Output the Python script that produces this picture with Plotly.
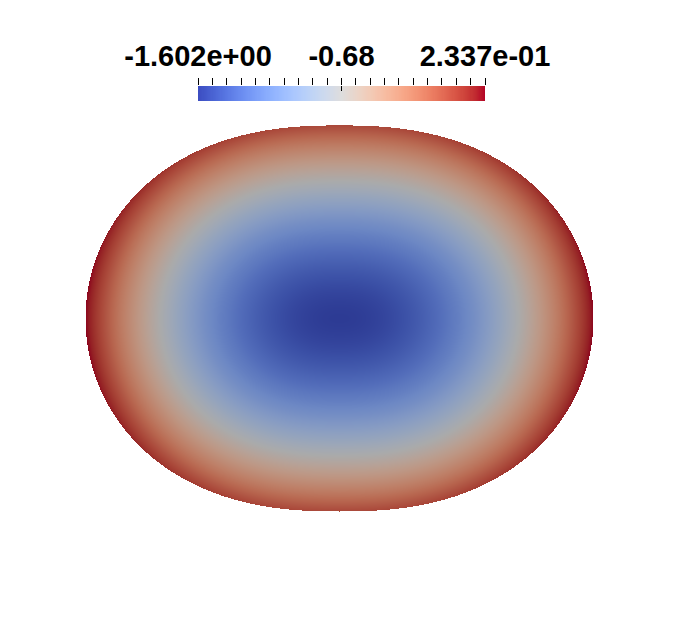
import numpy as np
import plotly.graph_objects as go

# ---- data ----
value_range = [-1.602, 0.2337]            # scalar range of the field (colorbar ends)
tick_labels = ["-1.602e+00", "-0.68", "2.337e-01"]
n_bar_ticks = 21                           # tick marks along the colorbar
domain_semi_axes = [1.0, 0.760]            # rounded domain half-width / half-height
domain_exponents = [2.4, 2.0]              # boundary exponents in x and y
field_semi_axes = [1.0, 0.82]              # level-set axes of the scalar field
field_power = 2.0                          # radial growth of the field along x

# ParaView "Cool to Warm" table (position, r, g, b)
cw_pos = [0.0, 0.03125, 0.0625, 0.09375, 0.125, 0.15625, 0.1875, 0.21875, 0.25,
          0.28125, 0.3125, 0.34375, 0.375, 0.40625, 0.4375, 0.46875, 0.5,
          0.53125, 0.5625, 0.59375, 0.625, 0.65625, 0.6875, 0.71875, 0.75,
          0.78125, 0.8125, 0.84375, 0.875, 0.90625, 0.9375, 0.96875, 1.0]
cw_r = [59, 68, 77, 87, 98, 108, 119, 130, 141, 152, 163, 174, 184, 194, 204, 213, 221,
        229, 236, 241, 245, 247, 247, 247, 244, 241, 236, 229, 222, 213, 203, 192, 180]
cw_g = [76, 90, 104, 117, 130, 142, 154, 165, 176, 185, 194, 201, 208, 213, 217, 219, 221,
        216, 211, 204, 196, 187, 177, 166, 154, 141, 127, 112, 96, 80, 62, 40, 4]
cw_b = [192, 204, 215, 225, 234, 241, 247, 251, 254, 255, 255, 253, 249, 244, 238, 230, 221,
        209, 197, 185, 173, 160, 148, 135, 123, 111, 99, 88, 77, 66, 56, 47, 38]
shade = 0.77                               # surface lighting factor

vmin, vmax = value_range
vmid = 0.5 * (vmin + vmax)

def scale(k):
    return [[p, "rgb(%d,%d,%d)" % (round(r * k), round(g * k), round(b * k))]
            for p, r, g, b in zip(cw_pos, cw_r, cw_g, cw_b)]

# ---- field on the domain ----
step = 1.0 / 254.0
xs = np.arange(-1.0, 1.0 + step / 2, step)
ys = np.arange(-domain_semi_axes[1] - step, domain_semi_axes[1] + step * 1.5, step)
X, Y = np.meshgrid(xs, ys)
px, qy = domain_exponents
inside = (np.abs(X) / domain_semi_axes[0]) ** px + (np.abs(Y) / domain_semi_axes[1]) ** qy <= 1.0
s = (np.abs(X) / field_semi_axes[0]) ** px + (np.abs(Y) / field_semi_axes[1]) ** qy
t = np.clip(s ** (field_power / px), 0, 1)
Z = vmin + (vmax - vmin) * t
Z = np.where(inside, Z, np.nan)

fig = go.Figure()
fig.add_trace(go.Heatmap(x=xs, y=ys, z=Z, colorscale=scale(shade), zmin=vmin, zmax=vmax,
                         showscale=False, hoverinfo="skip", xaxis="x", yaxis="y"))

# ---- colorbar strip ----
nb = 256
dxb = (vmax - vmin) / nb
bar_x = vmin + (np.arange(nb) + 0.5) * dxb
bar_z = [list(bar_x)]
fig.add_trace(go.Heatmap(x=bar_x, y=[0.5], z=bar_z, colorscale=scale(1.0), zmin=vmin, zmax=vmax,
                         showscale=False, hoverinfo="skip", xaxis="x2", yaxis="y2"))
fig.add_trace(go.Scatter(x=[vmid], y=[0.5], mode="markers", marker=dict(opacity=0),
                         hoverinfo="skip", showlegend=False, xaxis="x3", yaxis="y2"))

tickvals = list(np.linspace(vmin, vmax, n_bar_ticks))
ticktext = [""] * n_bar_ticks
ticktext[0] = tick_labels[0]
ticktext[n_bar_ticks // 2] = tick_labels[1]
ticktext[-1] = tick_labels[2]

W, H = 679, 637
OFF = 8  # page body margin
cx, cy, ppu = 339 - OFF, 318 - OFF, 254.0
fig.update_layout(
    width=W, height=H,
    margin=dict(l=0, r=0, t=0, b=0, autoexpand=False),
    paper_bgcolor="white", plot_bgcolor="white",
    showlegend=False,
    xaxis=dict(domain=[0, 1], range=[-cx / ppu, (W - cx) / ppu], visible=False, fixedrange=True),
    yaxis=dict(domain=[0, 1], range=[-(H - cy) / ppu, cy / ppu], visible=False, fixedrange=True),
    xaxis2=dict(domain=[(198 - OFF) / W, (485 - OFF) / W], range=[vmin, vmax], anchor="y2",
                side="top", tickmode="array", tickvals=tickvals, ticktext=ticktext,
                automargin=False, ticks="outside", ticklen=7, tickwidth=1, tickcolor="black",
                showgrid=False, zeroline=False, showline=False, fixedrange=True,
                tickfont=dict(family="Liberation Sans, Arial, sans-serif", size=29,
                              color="black", weight="bold")),
    xaxis3=dict(domain=[(198 - OFF) / W, (485 - OFF) / W], range=[vmin, vmax], anchor="y2",
                side="top", overlaying="x2", tickmode="array", tickvals=[vmid],
                showticklabels=False, ticks="inside", ticklen=5, tickwidth=1,
                tickcolor="black", automargin=False,
                showgrid=False, zeroline=False, showline=False, fixedrange=True),
    yaxis2=dict(domain=[(H - 101 + OFF) / H, (H - 86 + OFF) / H], range=[0, 1], anchor="x2",
                visible=False, fixedrange=True),
)

fig.write_html("out.html")
